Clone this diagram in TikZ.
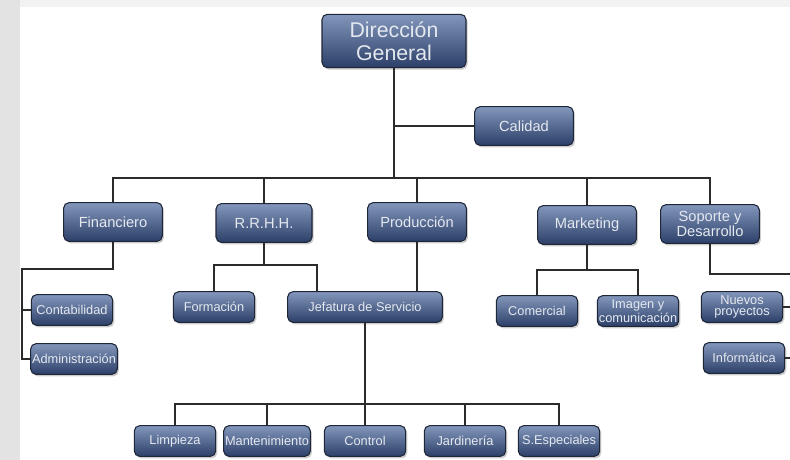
\documentclass[tikz,border=0pt]{standalone}
\usepackage{fontspec}
\setmainfont{Liberation Sans}
\usetikzlibrary{shadows}
\definecolor{boxtop}{HTML}{8397BC}
\definecolor{boxbot}{HTML}{2C3F68}
\definecolor{boxline}{HTML}{1E2638}
\definecolor{boxtext}{HTML}{E4E8EF}
\definecolor{linkclr}{HTML}{2B2B2B}

\begin{document}
\begin{tikzpicture}[x=0.75pt, y=-0.75pt,
        box/.style={draw=boxline, line width=0.8pt, rounded corners=4pt, top color=boxtop, bottom color=boxbot,
          text=boxtext, align=center, inner sep=1pt,
          drop shadow={shadow xshift=1.2pt, shadow yshift=-1.5pt, opacity=0.4}},
        head/.style={box, minimum width=108pt, minimum height=40pt, font=\fontsize{16}{17}\selectfont},
        dept/.style={box, minimum width=74pt, minimum height=29pt, font=\fontsize{11}{10}\selectfont},
        unit/.style={box, minimum width=61pt, minimum height=23pt, font=\fontsize{9.6}{8.6}\selectfont},
        link/.style={draw=linkclr, line width=1.2pt}]
        \useasboundingbox (0,0) rectangle (790,460);
        \fill[gray!22] (0,0) rectangle (790,460);
        \fill[gray!10] (20,0) rectangle (790,7);
        \fill[white] (20,7) rectangle (790,460);

        \node[head] (dg) at (394,41) {Dirección\\General};
        \node[dept] (cal) at (524,126) {Calidad};
        \node[dept] (fin) at (113,222) {Financiero};
        \node[dept, minimum width=72pt] (rrhh) at (264,223) {R.R.H.H.};
        \node[dept] (prod) at (417,222) {Producción};
        \node[dept] (mkt) at (587,225) {Marketing};
        \node[dept] (sop) at (710,224) {Soporte y\\Desarrollo};

        \node[unit] (cont) at (72,310) {Contabilidad};
        \node[unit] (adm) at (74,359) {Administración};
        \node[unit] (form) at (214,307) {Formación};
        \node[unit, minimum width=116pt] (jef) at (365,307) {Jefatura de Servicio};
        \node[unit] (com) at (537,311) {Comercial};
        \node[unit] (img) at (638,311) {Imagen y\\comunicación};
        \node[unit] (nue) at (742,307) {Nuevos\\proyectos};
        \node[unit] (inf) at (744,358) {Informática};

        \node[unit] (lim) at (175,441) {Limpieza};
        \node[unit] (man) at (267,441) {Mantenimiento};
        \node[unit] (con) at (365,441) {Control};
        \node[unit] (jar) at (465,441) {Jardinería};
        \node[unit] (esp) at (559,441) {S.Especiales};

        \draw[link] (dg.south) -- ++(0,110) coordinate (hub);
        \draw[link] (cal.west) -- (cal.west -| hub);
        \draw[link] (fin.north) |- (hub) -| (sop.north);
        \draw[link] (rrhh.north) -- (rrhh.north |- hub);
        \draw[link] (prod.north) -- (prod.north |- hub);
        \draw[link] (mkt.north) -- (mkt.north |- hub);

        \draw[link] (fin.south) -- ++(0,27) -- ++(-91,0) coordinate (fl) |- (adm.west);
        \draw[link] (cont.west) -- (cont.west -| fl);

        \draw[link] (rrhh.south) -- ++(0,22) coordinate (rh);
        \draw[link] (form.north) |- (rh) -- ++(53,0) coordinate (jr) -- (jr |- jef.north);
        \draw[link] (prod.south) -- (prod.south |- jef.north);

        \draw[link] (jef.south) -- ++(0,81) coordinate (jb);
        \draw[link] (lim.north) |- (jb) -| (esp.north);
        \draw[link] (man.north) -- (man.north |- jb);
        \draw[link] (con.north) -- (con.north |- jb);
        \draw[link] (jar.north) -- (jar.north |- jb);

        \draw[link] (mkt.south) -- ++(0,25) coordinate (mb);
        \draw[link] (com.north) |- (mb) -| (img.north);

        \coordinate (rs) at (790,274);
        \draw[link] (sop.south) |- (rs);
        \draw[link] (nue.east) -- (nue.east -| rs);
        \draw[link] (inf.east) -- (inf.east -| rs);
      \end{tikzpicture}
\end{document}
